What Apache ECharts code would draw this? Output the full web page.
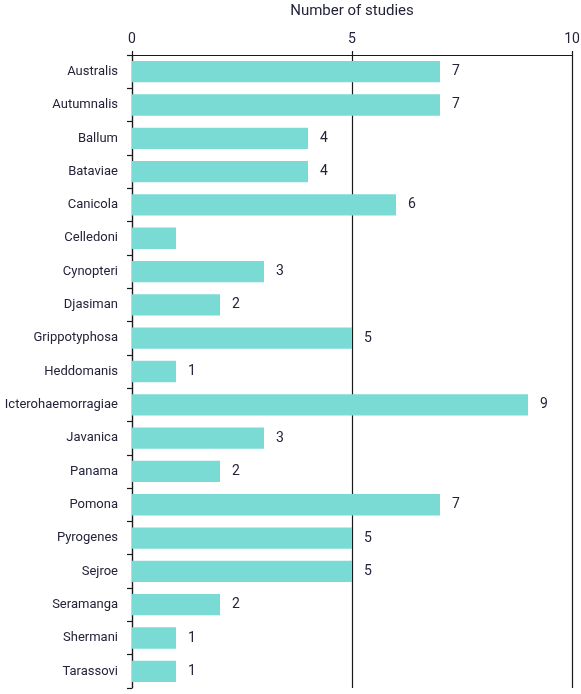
<!DOCTYPE html>
<html lang="en">
<head>
<meta charset="utf-8">
<title>Number of studies</title>
<style>
  html, body { margin: 0; padding: 0; background: #fff; }
  #chart { width: 581px; height: 694px; }
</style>
<script src="https://cdn.jsdelivr.net/npm/echarts@6/dist/echarts.min.js"></script>
</head>
<body>
<div id="chart"></div>
<script>
// serovars, top to bottom
var serovars = ['Australis', 'Autumnalis', 'Ballum', 'Bataviae', 'Canicola', 'Celledoni',
  'Cynopteri', 'Djasiman', 'Grippotyphosa', 'Heddomanis', 'Icterohaemorragiae', 'Javanica',
  'Panama', 'Pomona', 'Pyrogenes', 'Sejroe', 'Seramanga', 'Shermani', 'Tarassovi'];
var studies = [7, 7, 4, 4, 6, 1, 3, 2, 5, 1, 9, 3, 2, 7, 5, 5, 2, 1, 1];
// the source leaves the Celledoni bar without its number
var unlabelled = ['Celledoni'];

var textColor = '#23233a';
var font = 'Roboto, "Liberation Sans", sans-serif';

var barData = studies.map(function (v, i) {
  var item = { value: v };
  if (unlabelled.indexOf(serovars[i]) >= 0) item.label = { show: false };
  return item;
});

var chart = echarts.init(document.getElementById('chart'));
chart.setOption({
  animation: false,
  grid: { left: 132, right: 9, top: 55, bottom: 6, containLabel: false, outerBoundsMode: 'none' },
  xAxis: {
    type: 'value',
    position: 'top',
    min: 0, max: 10, interval: 5,
    name: 'Number of studies',
    nameLocation: 'middle',
    nameGap: 36,
    nameTextStyle: { color: textColor, fontSize: 15, fontFamily: font },
    axisLine: { show: true, onZero: false, lineStyle: { color: '#1a1a1a', width: 1.2 } },
    axisTick: { show: true, length: 4, lineStyle: { color: '#1a1a1a', width: 1.2 } },
    axisLabel: { color: textColor, fontSize: 14, fontFamily: font, margin: 9 },
    splitLine: { show: true, lineStyle: { color: '#1a1a1a', width: 1.2 } }
  },
  yAxis: {
    type: 'category',
    data: serovars,
    inverse: true,
    axisLine: { show: true, onZero: false, lineStyle: { color: '#1a1a1a', width: 1.2 } },
    axisTick: { show: true, length: 5, lineStyle: { color: '#1a1a1a', width: 1.2 } },
    axisLabel: { color: textColor, fontSize: 13, fontFamily: font, margin: 14 }
  },
  series: [{
    type: 'bar',
    data: barData,
    barWidth: '64%',
    itemStyle: { color: '#7adbd5' },
    label: {
      show: true,
      position: 'right',
      distance: 12,
      color: textColor,
      fontSize: 14,
      fontFamily: font
    }
  }]
});
</script>
</body>
</html>
